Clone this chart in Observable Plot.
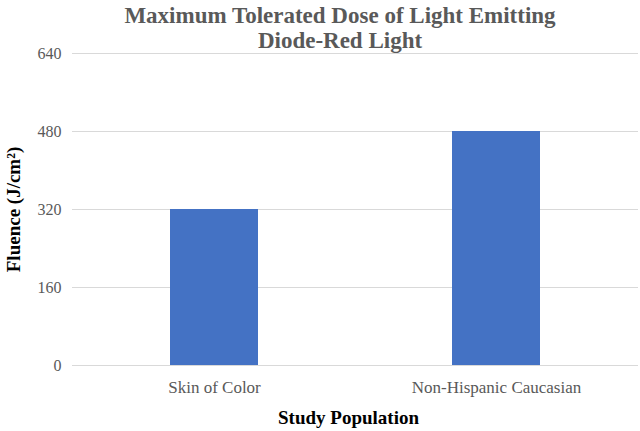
<!DOCTYPE html>
<html>
<head>
<meta charset="utf-8">
<script src="https://cdn.jsdelivr.net/npm/d3@7"></script>
<script src="https://cdn.jsdelivr.net/npm/@observablehq/plot@0.6"></script>
<style>
  body { margin: 0; background: #fff; }
  #title { position: absolute; top: 0; left: 0; width: 640px; padding-top: 3px; padding-left: 40px; box-sizing: border-box;
    font-family: "Liberation Serif", "Times New Roman", serif; font-weight: bold; font-size: 23px;
    line-height: 25px; color: #595959; text-align: center; z-index: 1; }
  #chart { position: absolute; top: 38px; left: 0; }
  #chart svg text { font-family: "Liberation Serif", "Times New Roman", serif; }
  g[aria-label="y-axis label"] text { font-weight: bold; fill: #000; font-size: 19px; }
</style>
</head>
<body>
<div id="title">Maximum Tolerated Dose of Light Emitting<br>Diode-Red Light</div>
<div id="chart"></div>
<script>
const populations = ["Skin of Color", "Non-Hispanic Caucasian"];
const fluence = [320, 480];
const yTicks = [0, 160, 320, 480, 640];
const xTitle = "Study Population";
const yTitle = "Fluence (J/cm²)";

const data = populations.map((p, i) => ({population: p, fluence: fluence[i]}));

const chart = Plot.plot({
  width: 640,
  height: 393,
  marginTop: 15,
  marginBottom: 66,
  marginLeft: 72,
  marginRight: 2,
  style: { fontFamily: "Liberation Serif, serif", fontSize: "16px", color: "#595959", background: "transparent" },
  x: { domain: populations, paddingInner: 0.687, paddingOuter: 0.344, align: 0.5 },
  y: { domain: [0, 640] },
  marks: [
    Plot.gridY(yTicks, { stroke: "#d9d9d9", strokeOpacity: 1 }),
    Plot.barY(data, { x: "population", y: "fluence", fill: "#4472C4" }),
    Plot.axisY({ ticks: yTicks, tickSize: 0, tickPadding: 11, label: yTitle, labelAnchor: "center", labelOffset: 66, labelArrow: "none", fontSize: 16 }),
    Plot.axisX({ tickSize: 0, tickPadding: 15, label: null, fontSize: 17 }),
    Plot.text([xTitle], { frameAnchor: "bottom", dx: -7, dy: 58, text: d => d, fontSize: 19, fontWeight: "bold", fill: "#000" })
  ]
});
document.getElementById("chart").appendChild(chart);
</script>
</body>
</html>
